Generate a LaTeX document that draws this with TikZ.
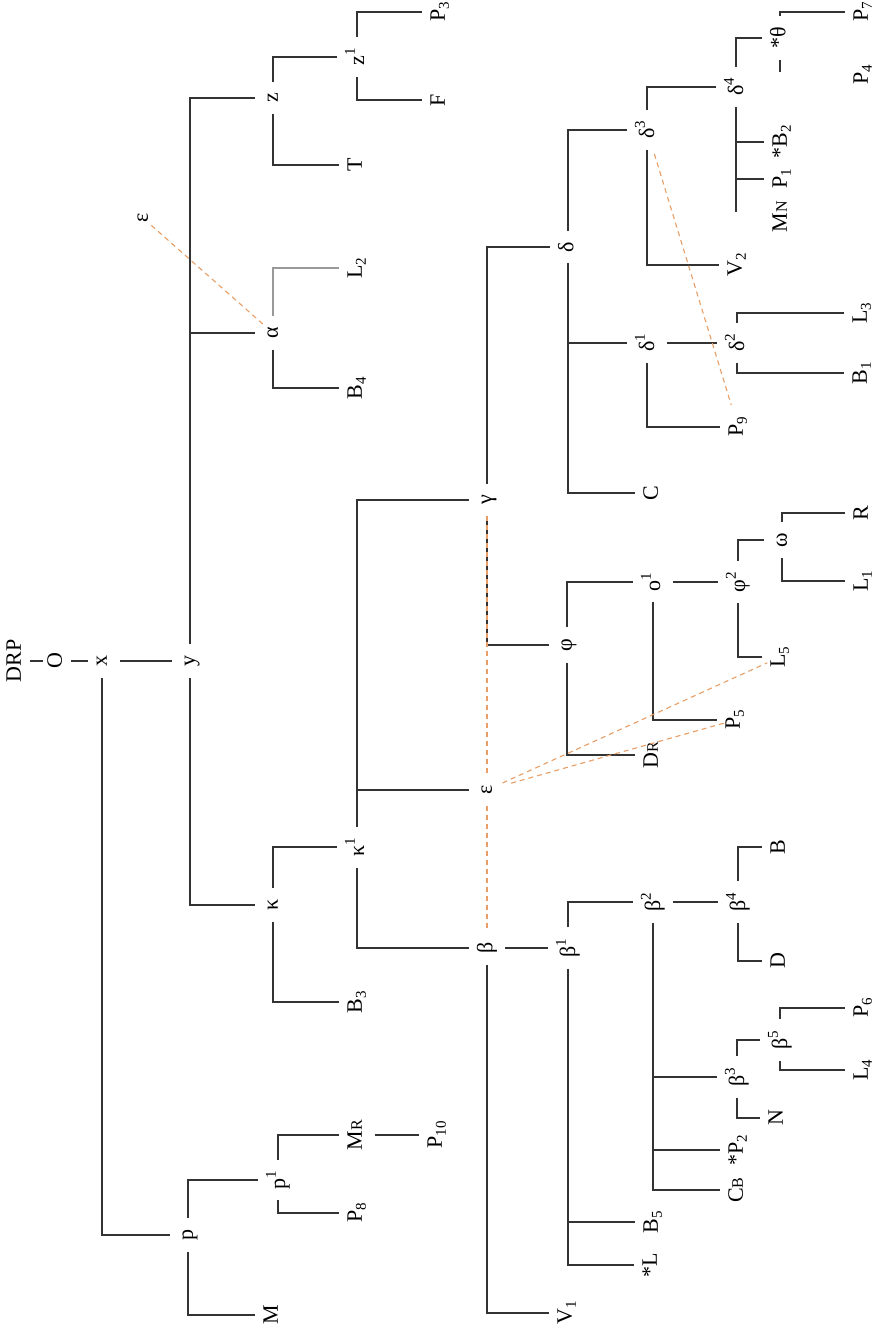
\documentclass[tikz,border=0pt]{standalone}
\usepackage{fontspec}
\setmainfont{Liberation Serif}
\usepackage{graphicx}
\newcommand\lo[1]{\raisebox{-0.18em}{\fontsize{15}{15}\selectfont #1}}
\newcommand\hi[1]{\raisebox{0.42em}{\fontsize{15}{15}\selectfont #1}}
\newcommand\sm[1]{{\fontsize{16}{16}\selectfont #1}}
\newcommand\lab[1]{\rotatebox{90}{\vphantom{Py}#1}}
\tikzset{
 lbl/.style={inner xsep=8pt, inner ysep=11pt, font=\fontsize{22}{26}\selectfont},
 tree/.style={draw=black!80, line width=1.1pt},
 link/.style={draw={rgb,255:red,232;green,158;blue,100}, line width=1.1pt, dash pattern=on 5pt off 4pt},
}
\begin{document}
\begin{tikzpicture}[x=1pt,y=-1pt]
\fill[white] (0,0) rectangle (878,1329);
\useasboundingbox (0,0) rectangle (878,1329);
% nodes
\node[lbl] (DRP) at (16,661) {\lab{DRP}};
\node[lbl] (O) at (57,661) {\lab{O}};
\node[lbl] (x) at (102,661) {\lab{x}};
\node[lbl] (y) at (190,661) {\lab{y}};
\node[lbl] (z) at (273,98) {\lab{z}};
\node[lbl] (z1) at (357,57) {\lab{z\hi{1}}};
\node[lbl] (T) at (357,165) {\lab{T}};
\node[lbl] (P3) at (440,12) {\lab{P\lo{3}}};
\node[lbl] (F) at (440,100) {\lab{F}};
\node[lbl] (al) at (273,333) {\lab{α}};
\node[lbl] (L2) at (357,268) {\lab{L\lo{2}}};
\node[lbl] (B4) at (357,388) {\lab{B\lo{4}}};
\node[lbl] (eps1) at (143,218) {\lab{ε}};
\node[lbl] (ka) at (273,905) {\lab{κ}};
\node[lbl] (ka1) at (357,847) {\lab{κ\hi{1}}};
\node[lbl] (B3) at (357,1002) {\lab{B\lo{3}}};
\node[lbl] (ga) at (487,500) {\lab{γ}};
\node[lbl] (eps2) at (487,790) {\lab{ε}};
\node[lbl] (be) at (487,948) {\lab{β}};
\node[lbl] (de) at (568,247) {\lab{δ}};
\node[lbl] (de3) at (647,130) {\lab{δ\hi{3}}};
\node[lbl] (de1) at (647,343) {\lab{δ\hi{1}}};
\node[lbl] (C) at (653,493) {\lab{C}};
\node[lbl] (de2) at (737,343) {\lab{δ\hi{2}}};
\node[lbl] (P9) at (738,427) {\lab{P\lo{9}}};
\node[lbl] (L3) at (862,313) {\lab{L\lo{3}}};
\node[lbl] (B1) at (862,373) {\lab{B\lo{1}}};
\node[lbl] (de4) at (736,87) {\lab{δ\hi{4}}};
\node[lbl] (V2) at (737,265) {\lab{V\lo{2}}};
\node[lbl] (th) at (780,38) {\lab{*θ}};
\node[lbl] (P7) at (863,12) {\lab{P\lo{7}}};
\node[lbl] (P4) at (863,75) {\lab{P\lo{4}}};
\node[lbl] (B2) at (782,142) {\lab{*B\lo{2}}};
\node[lbl] (P1) at (782,179) {\lab{P\lo{1}}};
\node[lbl] (MN) at (782,217) {\lab{M\sm{N}}};
\node[lbl] (ph) at (567,645) {\lab{φ}};
\node[lbl] (o1) at (653,582) {\lab{o\hi{1}}};
\node[lbl] (DR) at (653,755) {\lab{D\sm{R}}};
\node[lbl] (ph2) at (738,582) {\lab{φ\hi{2}}};
\node[lbl] (P5) at (735,720) {\lab{P\lo{5}}};
\node[lbl] (om) at (782,540) {\lab{ω}};
\node[lbl] (L5) at (780,657) {\lab{L\lo{5}}};
\node[lbl] (R) at (863,513) {\lab{R}};
\node[lbl] (L1) at (863,581) {\lab{L\lo{1}}};
\node[lbl] (be1) at (568,948) {\lab{β\hi{1}}};
\node[lbl] (V1) at (567,1313) {\lab{V\lo{1}}};
\node[lbl] (be2) at (653,902) {\lab{β\hi{2}}};
\node[lbl] (B5) at (653,1222) {\lab{B\lo{5}}};
\node[lbl] (Lstar) at (652,1265) {\lab{*L}};
\node[lbl] (be4) at (738,902) {\lab{β\hi{4}}};
\node[lbl] (be3) at (737,1077) {\lab{β\hi{3}}};
\node[lbl] (P2) at (738,1150) {\lab{*P\lo{2}}};
\node[lbl] (CB) at (738,1190) {\lab{C\sm{B}}};
\node[lbl] (B) at (780,847) {\lab{B}};
\node[lbl] (D) at (780,961) {\lab{D}};
\node[lbl] (be5) at (780,1040) {\lab{β\hi{5}}};
\node[lbl] (N) at (778,1118) {\lab{N}};
\node[lbl] (P6) at (863,1008) {\lab{P\lo{6}}};
\node[lbl] (L4) at (863,1070) {\lab{L\lo{4}}};
\node[lbl] (p) at (188,1235) {\lab{p}};
\node[lbl] (p1) at (278,1180) {\lab{p\hi{1}}};
\node[lbl] (M) at (273,1315) {\lab{M}};
\node[lbl] (MR) at (357,1135) {\lab{M\sm{R}}};
\node[lbl] (P8) at (357,1213) {\lab{P\lo{8}}};
\node[lbl] (P10) at (437,1135) {\lab{P\lo{10}}};
% tree connectors
\draw[tree, shorten <=-4pt, shorten >=-4pt] (DRP.east) -- (O.west);
\draw[tree, shorten <=-4pt, shorten >=-4pt] (O.east) -- (x.west);
\draw[tree] (x.east) -- (y.west);
\draw[tree] (x.south) |- (p.west);
\draw[tree] (y.north) |- (z.west);
\draw[tree] (y.north |- al.west) -- (al.west);
\draw[tree] (y.south) |- (ka.west);
\draw[tree] (z.north) |- (z1.west);
\draw[tree] (z.south) |- (T.west);
\draw[tree] (z1.north) |- (P3.west);
\draw[tree] (z1.south) |- (F.west);
\draw[tree, draw=black!40] (al.north) |- (L2.west);
\draw[tree] (al.south) |- (B4.west);
\draw[tree] (ka.north) |- (ka1.west);
\draw[tree] (ka.south) |- (B3.west);
\draw[tree] (ka1.north) |- (ga.west);
\draw[tree] (ka1.north |- eps2.west) -- (eps2.west);
\draw[tree] (ka1.south) |- (be.west);
\draw[tree] (ga.north) |- (de.west);
\draw[tree] (ga.south) |- (ph.west);
\draw[tree] (de.north) |- (de3.west);
\draw[tree] (de.south) |- (C.west);
\draw[tree] (de.south |- de1.west) -- (de1.west);
\draw[tree] (de3.north) |- (de4.west);
\draw[tree] (de3.south) |- (V2.west);
\draw[tree] (de4.north) |- (th.west);
\draw[tree, shorten >=5pt] (de4.south) -- (de4.south |- MN.center);
\draw[tree] (de4.south |- B2.west) -- (B2.west);
\draw[tree] (de4.south |- P1.west) -- (P1.west);
\draw[tree] (th.north) |- (P7.west);
\draw[tree, shorten >=3pt] (th.south) -- (th.south |- P4.center);
\draw[tree] (de1.east) -- (de2.west);
\draw[tree] (de1.south) |- (P9.west);
\draw[tree] (de2.north) |- (L3.west);
\draw[tree] (de2.south) |- (B1.west);
\draw[tree] (ph.north) |- (o1.west);
\draw[tree] (ph.south) |- (DR.west);
\draw[tree] (o1.east) -- (ph2.west);
\draw[tree] (o1.south) |- (P5.west);
\draw[tree] (ph2.north) |- (om.west);
\draw[tree] (ph2.south) |- (L5.west);
\draw[tree] (om.north) |- (R.west);
\draw[tree] (om.south) |- (L1.west);
\draw[tree] (be.east) -- (be1.west);
\draw[tree] (be.south) |- (V1.west);
\draw[tree] (be1.north) |- (be2.west);
\draw[tree] (be1.south) |- (Lstar.west);
\draw[tree] (be1.south |- B5.west) -- (B5.west);
\draw[tree] (be2.east) -- (be4.west);
\draw[tree] (be2.south) |- (CB.west);
\draw[tree] (be2.south |- be3.west) -- (be3.west);
\draw[tree] (be2.south |- P2.west) -- (P2.west);
\draw[tree] (be4.north) |- (B.west);
\draw[tree] (be4.south) |- (D.west);
\draw[tree] (be3.north) |- (be5.west);
\draw[tree] (be3.south) |- (N.west);
\draw[tree] (be5.north) |- (P6.west);
\draw[tree] (be5.south) |- (L4.west);
\draw[tree] (p.north) |- (p1.west);
\draw[tree] (p.south) |- (M.west);
\draw[tree] (p1.north) |- (MR.west);
\draw[tree] (p1.south) |- (P8.west);
\draw[tree] (MR.east) -- (P10.west);
% dashed links
\draw[link, shorten <=11pt, shorten >=13pt] (eps1.center) -- (al.center);
\draw[link, xshift=-3pt] (ga.south) -- (eps2.north);
\draw[link, xshift=-3pt] (eps2.south) -- (be.north);
\draw[link, shorten <=17pt, shorten >=14pt] (eps2.center) -- (L5.center);
\draw[link, shorten <=25pt, shorten >=11pt] (eps2.center) -- (P5.center);
\draw[link, shorten <=25pt, shorten >=23pt] (de3.center) -- (P9.center);
\end{tikzpicture}
\end{document}
